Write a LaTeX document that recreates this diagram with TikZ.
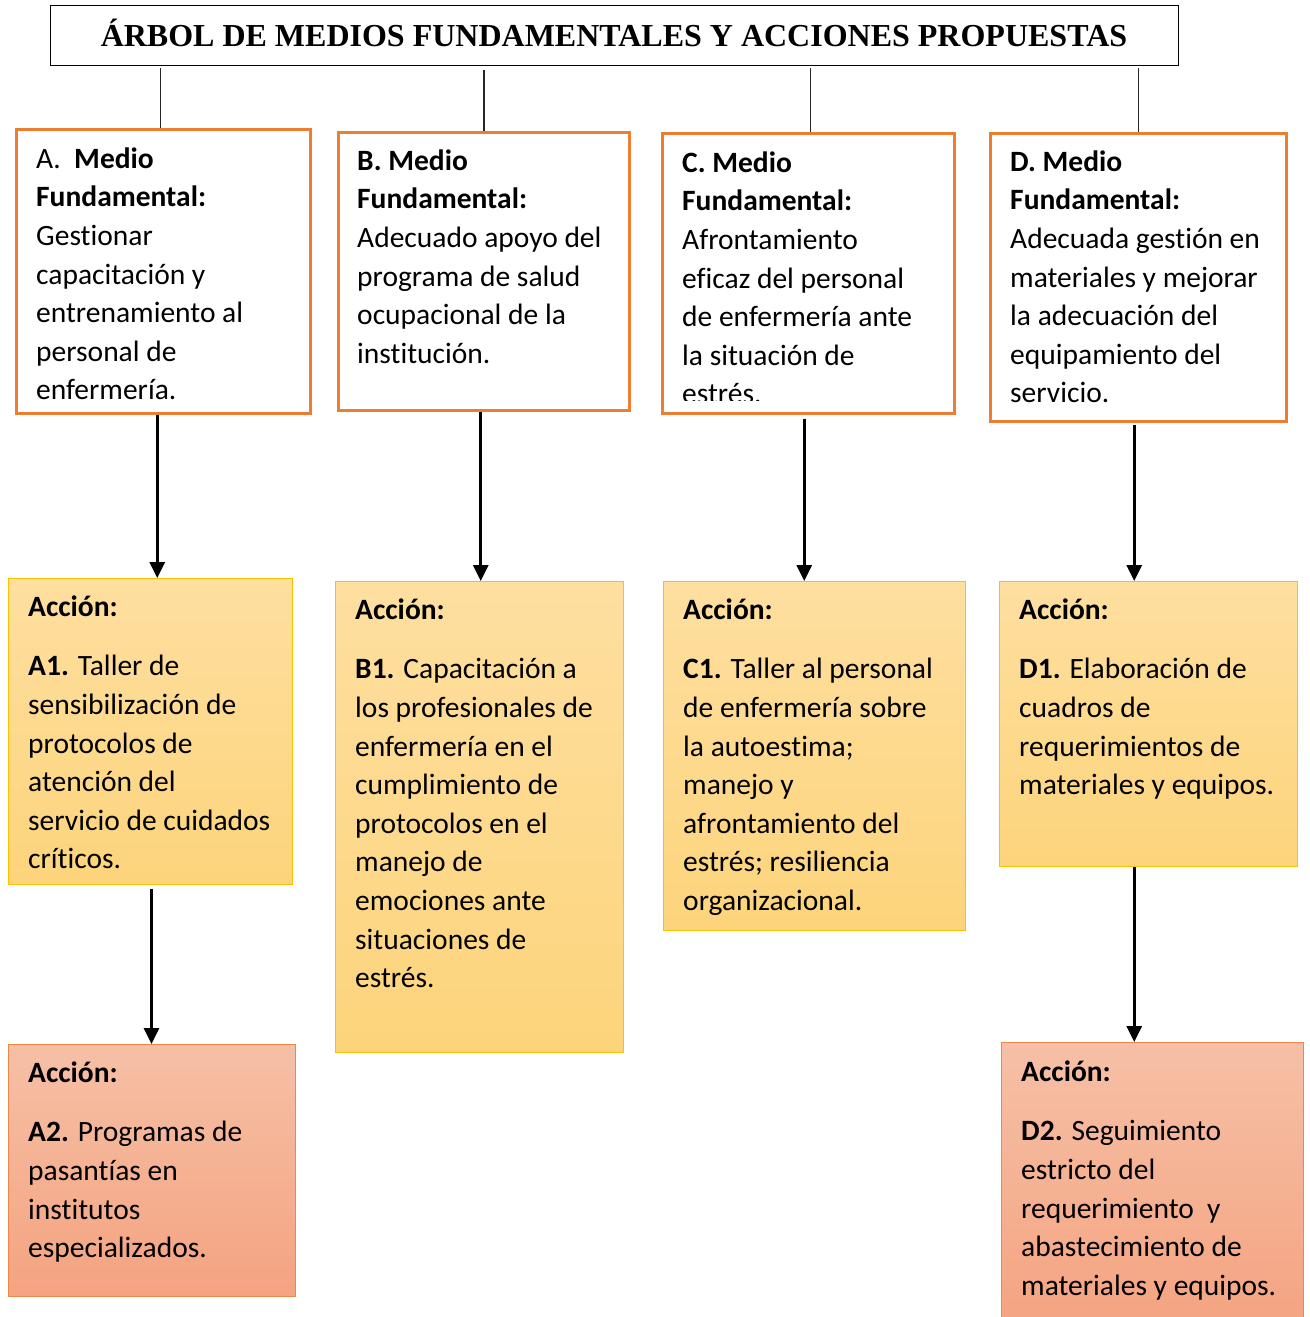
\documentclass[tikz,border=0pt]{standalone}
\usepackage{fontspec}
\setmainfont{Carlito}[Ligatures={NoCommon}]
\newfontfamily\titlefont{Liberation Serif}
\usetikzlibrary{arrows.meta}
\definecolor{medorange}{HTML}{ED7D31}
\definecolor{accTop}{HTML}{FEDFA0}
\definecolor{accBot}{HTML}{FDD47B}
\definecolor{accBorder}{HTML}{FFC000}
\definecolor{salTop}{HTML}{F6C0A6}
\definecolor{salBot}{HTML}{F4A380}
\definecolor{salBorder}{HTML}{EE8848}
\tikzset{
  titlebox/.style={draw=black, line width=1.3pt, inner sep=0pt, anchor=north west},
  medbox/.style={draw=medorange, line width=2.5pt, inner sep=0pt, anchor=north west, fill=white},
  accbox/.style={draw=accBorder, line width=1pt, inner sep=0pt, anchor=north west, top color=accTop, bottom color=accBot},
  salbox/.style={draw=salBorder, line width=1pt, inner sep=0pt, anchor=north west, top color=salTop, bottom color=salBot},
  txt/.style={anchor=north west, inner sep=0pt, align=left, font=\fontsize{29.5}{38.6}\selectfont},
  link/.style={draw=black!85, line width=1.5pt},
  arr/.style={draw=black, line width=3pt, -{Triangle[width=15pt,length=16pt]}},
}
\newcommand{\fs}{\rule{0pt}{26pt}}
\begin{document}
\begin{tikzpicture}[x=1pt,y=-1pt]
\useasboundingbox (0,0) rectangle (1309,1317);
% title
\node[titlebox, minimum width=1128pt, minimum height=60pt] (title) at (50,5) {};
\node[font=\titlefont\bfseries\fontsize{32}{34}\selectfont, inner sep=0pt] (titletext) at (614,33) {ÁRBOL DE MEDIOS FUNDAMENTALES Y ACCIONES PROPUESTAS};
% medio boxes
\node[medbox, minimum width=294pt, minimum height=284pt] (A) at (15,128) {};
\node[medbox, minimum width=291pt, minimum height=278pt] (B) at (337,131) {};
\node[medbox, minimum width=292pt, minimum height=280pt] (C) at (661,132) {};
\node[medbox, minimum width=296pt, minimum height=288pt] (D) at (989,132) {};
% action boxes
\node[accbox, minimum width=284pt, minimum height=306pt] (A1) at (8,578) {};
\node[accbox, minimum width=288pt, minimum height=471pt] (B1) at (335,581) {};
\node[accbox, minimum width=302pt, minimum height=349pt] (C1) at (663,581) {};
\node[accbox, minimum width=298pt, minimum height=285pt] (D1) at (999,581) {};
\node[salbox, minimum width=287pt, minimum height=252pt] (A2) at (8,1044) {};
\node[salbox, minimum width=302pt, minimum height=290pt] (D2) at (1001,1042) {};
% title links
\draw[link] (A.north |- title.south) ++(-3,2) -- ([xshift=-3pt]A.north);
\draw[link] (B.north |- title.south) ++(0,4) -- (B.north);
\draw[link] (C.north |- title.south) ++(2,2) -- ([xshift=2pt]C.north);
\draw[link] (D.north |- title.south) ++(0,2) -- (D.north);
% arrows
\draw[arr] ([xshift=-6pt]A.south) -- ([xshift=-6pt]A.south |- A1.north);
\draw[arr] ([xshift=-3pt]B.south) -- ([xshift=-3pt]B.south |- B1.north);
\draw[arr] ([xshift=-4pt,yshift=-4pt]C.south) -- ([xshift=-4pt]C.south |- C1.north);
\draw[arr] ([xshift=-4pt,yshift=-2pt]D.south) -- ([xshift=-4pt]D.south |- D1.north);
\draw[arr] ([xshift=1pt,yshift=-4pt]A1.south) -- ([xshift=1pt]A1.south |- A2.north);
\draw[arr] ([xshift=-4pt]D.south |- D1.south) -- ([xshift=-4pt]D.south |- D2.north);
% texts medios
\node[txt] (At) at (36,142) {\fs A.\ \ \textbf{Medio}\\ \textbf{Fundamental:}\\ Gestionar\\ capacitación y\\ entrenamiento al\\ personal de\\ enfermería.};
\node[txt] (Bt) at (357,144) {\fs\textbf{B. Medio}\\ \textbf{Fundamental:}\\ Adecuado apoyo del\\ programa de salud\\ ocupacional de la\\ institución.};
\begin{scope}
\clip ([xshift=2pt,yshift=2pt]C.north west) rectangle (C.east |- 0,400.5);
\node[txt] (Ct) at (682,146) {\fs\textbf{C. Medio}\\ \textbf{Fundamental:}\\ Afrontamiento\\ eficaz del personal\\ de enfermería ante\\ la situación de\\ estrés.};
\end{scope}
\node[txt] (Dt) at (1010,145) {\fs\textbf{D. Medio}\\ \textbf{Fundamental:}\\ Adecuada gestión en\\ materiales y mejorar\\ la adecuación del\\ equipamiento del\\ servicio.};
% texts acciones
\node[txt] (A1t) at (28,590) {\fs\textbf{Acción:}\\[21pt] \textbf{A1.} Taller de\\ sensibilización de\\ protocolos de\\ atención del\\ servicio de cuidados\\ críticos.};
\node[txt] (B1t) at (355,593) {\fs\textbf{Acción:}\\[21pt] \textbf{B1.} Capacitación a\\ los profesionales de\\ enfermería en el\\ cumplimiento de\\ protocolos en el\\ manejo de\\ emociones ante\\ situaciones de\\ estrés.};
\node[txt] (C1t) at (683,593) {\fs\textbf{Acción:}\\[21pt] \textbf{C1.} Taller al personal\\ de enfermería sobre\\ la autoestima;\\ manejo y\\ afrontamiento del\\ estrés; resiliencia\\ organizacional.};
\node[txt] (D1t) at (1019,593) {\fs\textbf{Acción:}\\[21pt] \textbf{D1.} Elaboración de\\ cuadros de\\ requerimientos de\\ materiales y equipos.};
\node[txt] (A2t) at (28,1056) {\fs\textbf{Acción:}\\[21pt] \textbf{A2.} Programas de\\ pasantías en\\ institutos\\ especializados.};
\node[txt] (D2t) at (1021,1055) {\fs\textbf{Acción:}\\[21pt] \textbf{D2.} Seguimiento\\ estricto del\\ requerimiento\ \ y\\ abastecimiento de\\ materiales y equipos.};
\end{tikzpicture}
\end{document}
